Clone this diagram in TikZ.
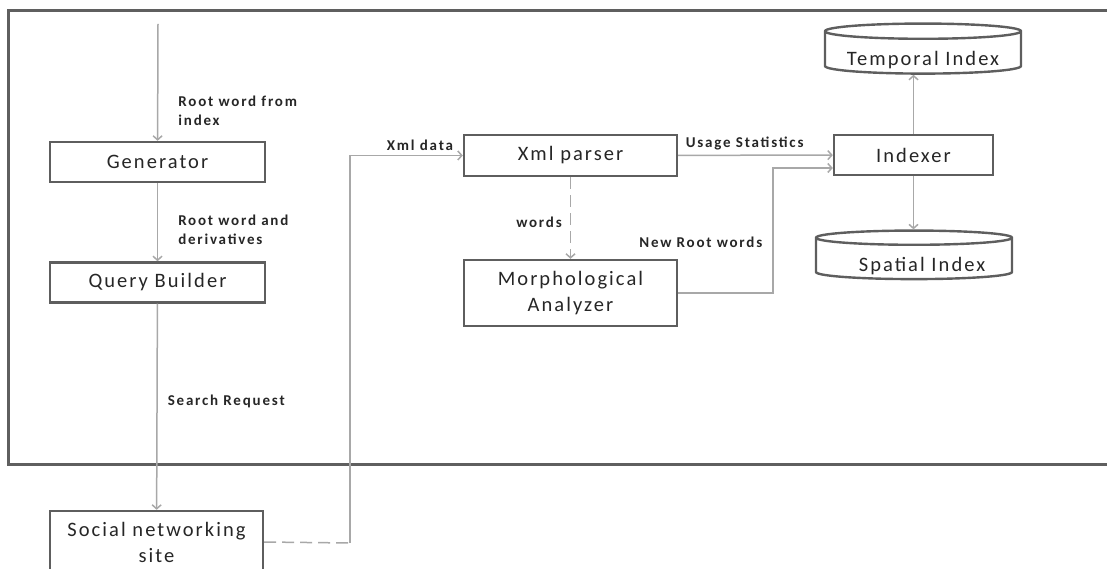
\documentclass[tikz,border=0pt]{standalone}
\usepackage{fontspec}
\setmainfont{Carlito}
\newfontfamily\spacedfont{Carlito}[LetterSpace=10]
\newfontfamily\tagfont{Carlito}[LetterSpace=12]
\usetikzlibrary{arrows.meta,positioning,shapes.geometric}
\definecolor{Frame}{HTML}{5F5F5F}
\definecolor{BoxLine}{HTML}{5E5E5E}
\definecolor{Wire}{HTML}{A8A8A8}
\definecolor{Ink}{HTML}{262626}
\tikzset{
  block/.style={draw=BoxLine,line width=2.4pt,fill=white,align=center,inner sep=0pt,minimum height=40pt,text=Ink,font=\spacedfont\fontsize{20.5}{26}\selectfont},
  store/.style={block,cylinder,shape border rotate=90,aspect=0.1,minimum width=196pt,minimum height=42pt,text height=26pt,text depth=0pt},
  wire/.style={draw=Wire,line width=1.5pt,-{Straight Barb[length=4pt,width=9pt]}},
  dashwire/.style={draw=Wire,line width=1.5pt,dash pattern=on 12pt off 6pt},
  tag/.style={font=\tagfont\bfseries\fontsize{15}{19}\selectfont,text=Ink,align=left,inner sep=0pt}
}
\begin{document}
\begin{tikzpicture}[x=1pt,y=1pt]
\clip (0,0) rectangle (1107,568);
\draw[Frame,line width=3pt] (8,557) rectangle (1130,104);
% left column
\node[block,minimum width=215pt] (gen) at (157.5,406) {Generator};
\node[block,minimum width=215pt,below=78pt of gen] (qb) {Query Builder};
\node[block,minimum width=213pt,minimum height=62pt] (sns) at (156.5,26) {Social networking\\site};
% middle and right
\node[block,minimum width=213pt,minimum height=41pt] (xml) at (570.5,412.5) {Xml parser};
\node[block,minimum width=213pt,minimum height=66pt] (morph) at (570.5,275) {Morphological\\Analyzer};
\node[block,minimum width=159pt] (idx) at (913.5,413) {Indexer};
\node[store] (temporal) at (923,515) {Temporal Index};
\node[store] (spatial) at (914,309) {\hspace*{16pt}Spatial Index};
\coordinate (feed) at (158,544);
\coordinate (bend) at (350,25);
\coordinate (turn) at (773,275);
% connectors
\draw[wire] (feed) -- node[tag,pos=0.74,right=20pt] {Root word from\\index} (gen);
\draw[wire] (gen) -- node[tag,pos=0.6,right=20pt] {Root word and\\derivatives} (qb);
\draw[wire] (qb) -- node[tag,pos=0.474,right=10pt] {Search Request} (sns);
\draw[dashwire] (sns.east) -- (bend);
\draw[wire] (bend) |- node[tag,pos=1,above left=4pt and 9pt] {Xml data} (xml.west);
\draw[wire] (xml) -- node[tag,pos=0.43,above=4pt] {Usage Statistics} (idx);
\draw[wire,dash pattern=on 12pt off 6pt] (xml) -- node[tag,pos=0.55,left=8pt] {words} (morph);
\draw[wire] (morph.east) -- node[tag,pos=1,above left=45pt and 10pt] {New Root words} (turn) |- ([yshift=-13pt]idx.west);
\draw[wire] (idx.north) -- (idx.north |- temporal.south);
\draw[wire] (idx.south) -- (idx.south |- spatial.north);
\end{tikzpicture}
\end{document}
